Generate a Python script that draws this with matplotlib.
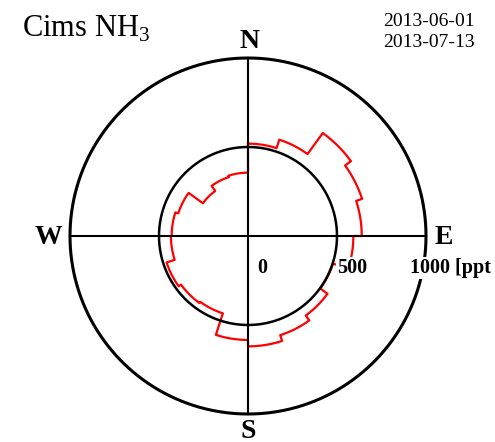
import numpy as np
import matplotlib
matplotlib.use('Agg')
import matplotlib.pyplot as plt

# Rosa de concentracion: NH3 medio por sector de viento (ppt)
sector_start = np.arange(0, 360, 18)   # grados desde el norte, sentido horario
nh3_ppt = [519, 569, 715, 674, 639, 592, 502, 552, 586, 620,
           584, 457, 465, 481, 433, 429, 412, 313, 348, 356]

ring_values = [500, 1000]
tick_values = [0, 500, 1000]
tick_labels = ['0', '500', '1000 [ppt']   # asi aparece (cortado) en la figura
compass = ['N', 'E', 'S', 'W']
title = 'Cims NH$_3$'
date_start = '2013-06-01'
date_end = '2013-07-13'

plt.rcParams['font.family'] = ['Liberation Serif', 'DejaVu Serif']
plt.rcParams['mathtext.fontset'] = 'custom'
plt.rcParams['mathtext.rm'] = 'Liberation Serif'

W, H = 495, 442
px = 1000 / 178.0          # ppt por pixel
cx, cy = 248, 236          # centro en pixeles

fig = plt.figure(figsize=(W / 100, H / 100), dpi=100)
ax = fig.add_axes([0, 0, 1, 1])
ax.set_xlim(-cx * px, (W - cx) * px)
ax.set_ylim(-(H - cy) * px, cy * px)
ax.axis('off')


def polar_xy(theta_deg, r):
    t = np.radians(theta_deg)
    return r * np.sin(t), r * np.cos(t)


# circulos
t = np.linspace(0, 360, 721)
for r, lw in zip(ring_values, [1.8, 2.2]):
    x, y = polar_xy(t, r)
    ax.plot(x, y, color='black', lw=lw, solid_capstyle='butt')

# ejes N-S y E-W
ax.plot([-1000, 1000], [0, 0], color='black', lw=1.5)
ax.plot([0, 0], [-1000, 1000], color='black', lw=1.5)

# curva escalonada roja
xs, ys = [], []
width = 18
for start, val in zip(sector_start, nh3_ppt):
    th = np.linspace(start, start + width, 30)
    x, y = polar_xy(th, val)
    xs.extend(x)
    ys.extend(y)
xs.append(xs[0])
ys.append(ys[0])
ax.plot(xs, ys, color='red', lw=1.6, zorder=1)

# letras de los puntos cardinales
card_pos = {'N': (250, 41), 'E': (444, 237), 'S': (248, 431), 'W': (48, 237)}
for c in compass:
    x0, y0 = card_pos[c]
    ax.text((x0 - cx) * px, (cy - y0) * px, c, fontsize=20, fontweight='bold',
            ha='center', va='center')

# etiquetas radiales (con fondo blanco, tapan las lineas)
label_px = [257, 337, 410]
for v, lab, lx in zip(tick_values, tick_labels, label_px):
    ax.text((lx - cx) * px, (cy - 268) * px, lab, fontsize=14.5, fontweight='bold',
            ha='left', va='center', zorder=5,
            bbox=dict(facecolor='white', edgecolor='none', pad=0.5))

fig.text(22 / W, 1 - 37 / H, title, fontsize=22, ha='left', va='baseline')
fig.text(383 / W, 1 - 26 / H, date_start, fontsize=14, ha='left', va='baseline')
fig.text(383 / W, 1 - 47 / H, date_end, fontsize=14, ha='left', va='baseline')

fig.savefig('out.png', dpi=100)
